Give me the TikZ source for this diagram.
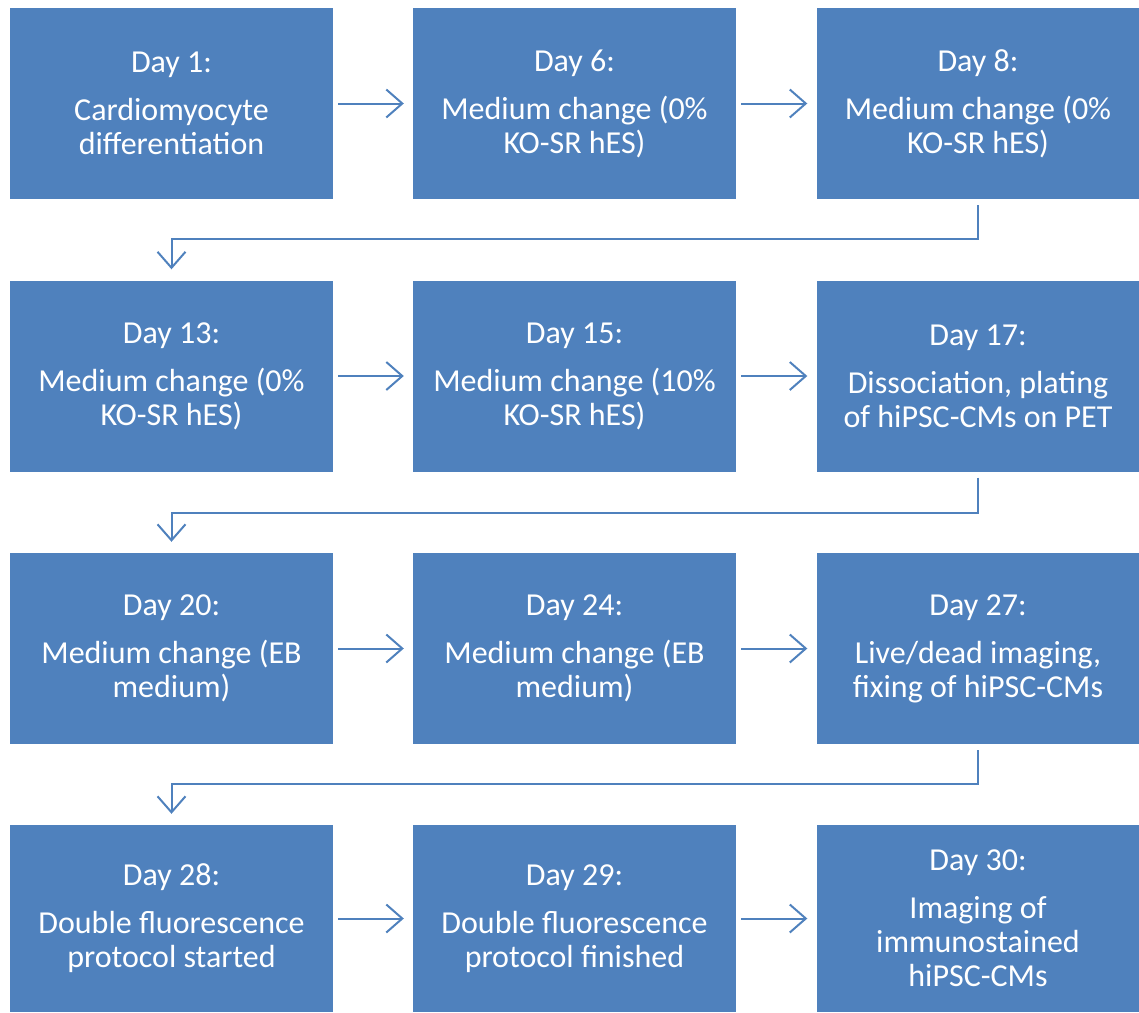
\documentclass[tikz,border=0pt]{standalone}
\usepackage{fontspec}
\setmainfont{Carlito}
\usetikzlibrary{arrows.meta}
\definecolor{boxblue}{HTML}{4F81BD}
\tikzset{
  stepbox/.style={fill=boxblue, draw=none, minimum width=323pt, minimum height=191pt,
    inner sep=0pt, text=white, align=center,
    font=\fontsize{32pt}{34pt}\selectfont},
  conn/.style={draw=boxblue, line width=2pt,
    -{Straight Barb[length=16pt,width=28pt,line width=2pt]}}
}
\newcommand{\daybox}[2]{#1\\[14pt]#2}
\begin{document}
\begin{tikzpicture}[x=1pt,y=-1pt]
\useasboundingbox (0,0) rectangle (1139,1012);
% row 1
\node[stepbox] (b1) at (171.5,103.5) {\daybox{Day 1:}{Cardiomyocyte\\differentiation}};
\node[stepbox] (b2) at (574.5,103.5) {\daybox{Day 6:}{Medium change (0\%\\KO-SR hES)}};
\node[stepbox] (b3) at (978,103.5) {\daybox{Day 8:}{Medium change (0\%\\KO-SR hES)}};
% row 2
\node[stepbox] (b4) at (171.5,376) {\daybox{Day 13:}{Medium change (0\%\\KO-SR hES)}};
\node[stepbox] (b5) at (574.5,376) {\daybox{Day 15:}{Medium change (10\%\\KO-SR hES)}};
\node[stepbox] (b6) at (978,376) {\daybox{Day 17:}{Dissociation, plating\\of hiPSC-CMs on PET}};
% row 3
\node[stepbox] (b7) at (171.5,648.5) {\daybox{Day 20:}{Medium change (EB\\medium)}};
\node[stepbox] (b8) at (574.5,648.5) {\daybox{Day 24:}{Medium change (EB\\medium)}};
\node[stepbox] (b9) at (978,648.5) {\daybox{Day 27:}{Live/dead imaging,\\fixing of hiPSC-CMs}};
% row 4
\node[stepbox, minimum height=187pt] (b10) at (171.5,918.5) {\daybox{Day 28:}{Double fluorescence\\protocol started}};
\node[stepbox, minimum height=187pt] (b11) at (574.5,918.5) {\daybox{Day 29:}{Double fluorescence\\protocol finished}};
\node[stepbox, minimum height=187pt] (b12) at (978,918.5) {\daybox{Day 30:}{Imaging of\\immunostained\\hiPSC-CMs}};
% horizontal connectors
\foreach \a/\b in {b1/b2,b2/b3,b4/b5,b5/b6,b7/b8,b8/b9,b10/b11,b11/b12}{
  \draw[conn, shorten <=5pt, shorten >=9pt] (\a.east) -- (\b.west);
}
% elbow connectors
\draw[conn, shorten <=6pt, shorten >=11pt] (b3.south) -- ++(0,40) -| (b4.north);
\draw[conn, shorten <=6pt, shorten >=11pt] (b6.south) -- ++(0,41) -| (b7.north);
\draw[conn, shorten <=6pt, shorten >=11pt] (b9.south) -- ++(0,40) -| (b10.north);
\end{tikzpicture}
\end{document}
